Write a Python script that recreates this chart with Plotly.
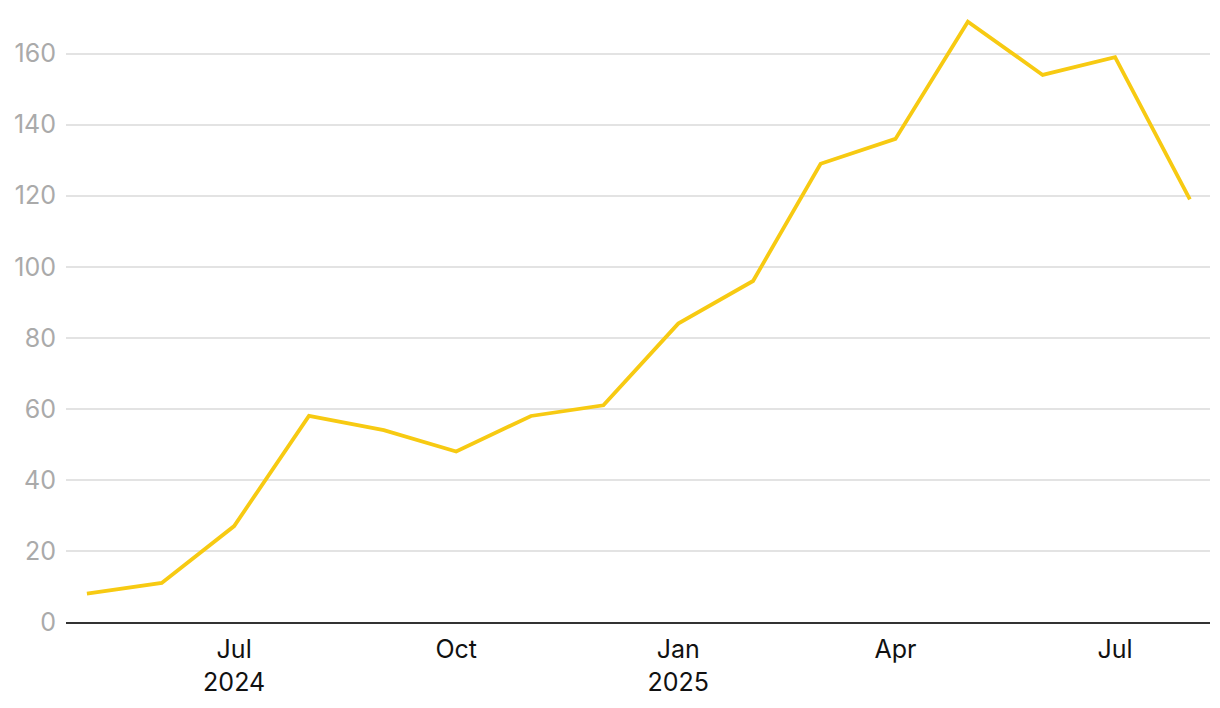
import plotly.graph_objects as go

months = ["2024-05-01", "2024-06-01", "2024-07-01", "2024-08-01", "2024-09-01", "2024-10-01",
          "2024-11-01", "2024-12-01", "2025-01-01", "2025-02-01", "2025-03-01", "2025-04-01",
          "2025-05-01", "2025-06-01", "2025-07-01", "2025-08-01"]
values = [8, 11, 27, 58, 54, 48, 58, 61, 84, 96, 129, 136, 169, 154, 159, 119]

x_tickvals = ["2024-07-01", "2024-10-01", "2025-01-01", "2025-04-01", "2025-07-01"]
x_ticktext = ["Jul<br>2024", "Oct", "Jan<br>2025", "Apr", "Jul"]
y_tickvals = [0, 20, 40, 60, 80, 100, 120, 140, 160]

fig = go.Figure()
fig.add_trace(go.Scatter(
    x=months, y=values, mode="lines",
    line=dict(color="#F7CA12", width=3.8),
    hoverinfo="x+y",
))

fig.update_layout(
    width=1220, height=708,
    margin=dict(l=58, r=18, t=3, b=94, autoexpand=False),
    paper_bgcolor="white", plot_bgcolor="white",
    font=dict(family="Inter, sans-serif", size=25),
    showlegend=False,
    xaxis=dict(
        type="date",
        range=["2024-04-22 08:00", "2025-08-09 08:00"],
        tickvals=x_tickvals, ticktext=x_ticktext,
        tickfont=dict(color="#111111", size=25),
        showgrid=False, zeroline=False,
        showline=True, linecolor="#333333", linewidth=2,
        ticks="", ticklabelstandoff=4,
    ),
    yaxis=dict(
        range=[0, 172],
        tickvals=y_tickvals,
        tickfont=dict(color="#AAAAAA", size=25),
        showgrid=True, gridcolor="#E3E3E3", gridwidth=1.5,
        zeroline=False, showline=False, ticks="",
        ticklabelstandoff=9,
    ),
)

fig.write_html("out.html")
